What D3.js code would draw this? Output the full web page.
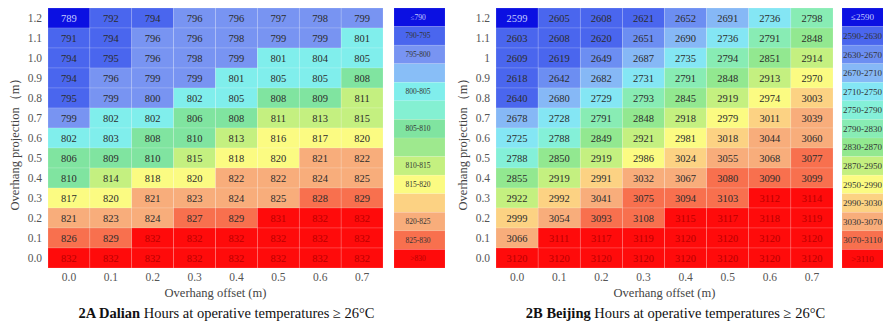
<!DOCTYPE html>
<html>
<head>
<meta charset="utf-8">
<script src="https://cdn.jsdelivr.net/npm/d3@7"></script>
<style>
  html, body { margin: 0; padding: 0; background: #fff; }
  svg { display: block; font-family: "Liberation Serif", "Times New Roman", serif; }
</style>
</head>
<body>
<svg id="chart" width="883" height="324"></svg>
<script>
// Overhang offset (columns) and projection (rows, top to bottom)
const offsets = ["0.0", "0.1", "0.2", "0.3", "0.4", "0.5", "0.6", "0.7"];
const dalianProjections = ["1.2", "1.1", "1.0", "0.9", "0.8", "0.7", "0.6", "0.5", "0.4", "0.3", "0.2", "0.1", "0.0"];
const beijingProjections = ["1.2", "1.1", "1", "0.9", "0.8", "0.7", "0.6", "0.5", "0.4", "0.3", "0.2", "0.1", "0.0"];

// Hours at operative temperatures >= 26°C, one row per projection
const dalianHours = [
  [789, 792, 794, 796, 796, 797, 798, 799],
  [791, 794, 796, 796, 798, 799, 799, 801],
  [794, 795, 796, 798, 799, 801, 804, 805],
  [794, 796, 799, 799, 801, 805, 805, 808],
  [795, 799, 800, 802, 805, 808, 809, 811],
  [799, 802, 802, 806, 808, 811, 813, 815],
  [802, 803, 808, 810, 813, 816, 817, 820],
  [806, 809, 810, 815, 818, 820, 821, 822],
  [810, 814, 818, 820, 822, 822, 824, 825],
  [817, 820, 821, 823, 824, 825, 828, 829],
  [821, 823, 824, 827, 829, 831, 832, 832],
  [826, 829, 832, 832, 832, 832, 832, 832],
  [832, 832, 832, 832, 832, 832, 832, 832]
];
const beijingHours = [
  [2599, 2605, 2608, 2621, 2652, 2691, 2736, 2798],
  [2603, 2608, 2620, 2651, 2690, 2736, 2791, 2848],
  [2609, 2619, 2649, 2687, 2735, 2794, 2851, 2914],
  [2618, 2642, 2682, 2731, 2791, 2848, 2913, 2970],
  [2640, 2680, 2729, 2793, 2845, 2919, 2974, 3003],
  [2678, 2728, 2791, 2848, 2918, 2979, 3011, 3039],
  [2725, 2788, 2849, 2921, 2981, 3018, 3044, 3060],
  [2788, 2850, 2919, 2986, 3024, 3055, 3068, 3077],
  [2855, 2919, 2991, 3032, 3067, 3080, 3090, 3099],
  [2922, 2992, 3041, 3075, 3094, 3103, 3112, 3114],
  [2999, 3054, 3093, 3108, 3115, 3117, 3118, 3119],
  [3066, 3111, 3117, 3119, 3120, 3120, 3120, 3120],
  [3120, 3120, 3120, 3120, 3120, 3120, 3120, 3120]
];

// Legend bands (top to bottom); blank labels are transition bands
const dalianLegendLabels = ["≤790", "790-795", "795-800", "", "800-805", "", "805-810", "", "810-815", "815-820", "", "820-825", "825-830", ">830"];
const dalianLegendColors = ["#0b10e2", "#4a66ee", "#7894f2", "#88bef7", "#80eeec", "#84f0d2", "#80e4a0", "#9ee98e", "#c4f080", "#fbfb82", "#fcd283", "#f8ad7b", "#f8704e", "#ff0b0b"];
// upper bound of each coloured class (value <= bound) and its legend band
const dalianBreaks = [790, 795, 800, 805, 810, 815, 820, 825, 830];
const dalianClassBand = [0, 1, 2, 4, 6, 8, 9, 11, 12, 13];

const beijingLegendLabels = ["≤2590", "2590-2630", "2630-2670", "2670-2710", "2710-2750", "2750-2790", "2790-2830", "2830-2870", "2870-2950", "2950-2990", "2990-3030", "3030-3070", "3070-3110", ">3110"];
const beijingLegendColors = ["#0b10e2", "#4a66ee", "#6c8ef2", "#86b8f6", "#84e6f4", "#84f0d8", "#88ecb4", "#92e890", "#c4f080", "#fbfb82", "#fcd283", "#f8ad7b", "#f8704e", "#ff0b0b"];
const beijingBreaks = [2600, 2640, 2670, 2710, 2750, 2790, 2830, 2870, 2950, 2990, 3030, 3070, 3110];
const beijingClassBand = [0, 1, 2, 3, 4, 5, 6, 7, 8, 9, 10, 11, 12, 13];

const panels = [
  {
    code: "2A", city: "Dalian", hours: dalianHours, rows: dalianProjections,
    breaks: dalianBreaks, classBand: dalianClassBand,
    legendLabels: dalianLegendLabels, legendColors: dalianLegendColors,
    x0: 48, x1: 383, legendX: 394, legendW: 51, legendTextX: 418, legendFont: 7.5
  },
  {
    code: "2B", city: "Beijing", hours: beijingHours, rows: beijingProjections,
    breaks: beijingBreaks, classBand: beijingClassBand,
    legendLabels: beijingLegendLabels, legendColors: beijingLegendColors,
    x0: 496, x1: 833, legendX: 842, legendW: 60, legendTextX: 862.5, legendFont: 9
  }
];

const gridTop = 8, gridBottom = 268;
const svg = d3.select("#chart");

panels.forEach(p => {
  const g = svg.append("g");

  const x = d3.scaleBand().domain(offsets).range([p.x0, p.x1]);
  const y = d3.scaleBand().domain(p.rows).range([gridTop, gridBottom]);

  // class index -> legend band index -> colour
  const cls = d3.scaleThreshold()
    .domain(p.breaks.map(b => b + 0.5))
    .range(d3.range(p.breaks.length + 1));
  const fillOf = v => p.legendColors[p.classBand[cls(v)]];
  const textOf = v => {
    const band = p.classBand[cls(v)];
    if (band === 0) return "#c4ccff";
    if (band === 13) return "#b80000";
    return "#2b2b2b";
  };

  const cells = [];
  p.hours.forEach((row, i) => row.forEach((v, j) => cells.push({ r: p.rows[i], c: offsets[j], v })));

  g.selectAll("rect.cell").data(cells).join("rect")
    .attr("class", "cell")
    .attr("x", d => x(d.c))
    .attr("y", d => y(d.r))
    .attr("width", x.bandwidth())
    .attr("height", y.bandwidth())
    .attr("fill", d => fillOf(d.v))
    .attr("stroke", "#ffffff")
    .attr("stroke-opacity", 0.25)
    .attr("stroke-width", 0.6);

  g.selectAll("text.val").data(cells).join("text")
    .attr("class", "val")
    .attr("x", d => x(d.c) + x.bandwidth() / 2)
    .attr("y", d => y(d.r) + y.bandwidth() / 2)
    .attr("dy", "0.35em")
    .attr("text-anchor", "middle")
    .attr("font-size", 10.5)
    .attr("fill", d => textOf(d.v))
    .text(d => d.v);

  // axes without ticks or domain lines
  const xAxis = g.append("g")
    .attr("transform", `translate(0,${gridBottom + 3})`)
    .call(d3.axisBottom(x).tickSize(0).tickPadding(2));
  const yAxis = g.append("g")
    .attr("transform", `translate(${p.x0},0)`)
    .call(d3.axisLeft(y).tickSize(0).tickPadding(6));
  [xAxis, yAxis].forEach(a => {
    a.select(".domain").remove();
    a.selectAll("text")
      .attr("font-family", "Liberation Serif, Times New Roman, serif")
      .attr("font-size", 11.5)
      .attr("fill", "#555");
  });

  const cx = (p.x0 + p.x1) / 2;

  g.append("text")
    .attr("x", cx).attr("y", 293).attr("dy", "0.35em")
    .attr("text-anchor", "middle")
    .attr("font-size", 12.5).attr("fill", "#444")
    .text("Overhang offset (m)");

  g.append("text")
    .attr("transform", `translate(${p.x0 - 33},${(gridTop + gridBottom) / 2 + 3}) rotate(-90)`)
    .attr("text-anchor", "middle")
    .attr("dy", "0.35em")
    .attr("font-size", 12.5).attr("fill", "#444")
    .text("Overhang projection（m）");

  const title = g.append("text")
    .attr("x", cx + 11).attr("y", 313).attr("dy", "0.35em")
    .attr("text-anchor", "middle")
    .attr("font-size", 14.5).attr("fill", "#111");
  title.append("tspan").attr("font-weight", "bold").text(`${p.code} ${p.city}`);
  title.append("tspan").text(" Hours at operative temperatures ≥ 26°C");

  // legend column
  const ly = d3.scaleBand().domain(d3.range(p.legendLabels.length)).range([gridTop, gridBottom]);
  const lg = g.append("g");
  lg.selectAll("rect").data(p.legendColors).join("rect")
    .attr("x", p.legendX)
    .attr("y", (d, i) => ly(i))
    .attr("width", p.legendW)
    .attr("height", ly.bandwidth())
    .attr("fill", d => d)
    .attr("stroke", "#ffffff")
    .attr("stroke-opacity", 0.2)
    .attr("stroke-width", 0.5);
  lg.selectAll("text").data(p.legendLabels).join("text")
    .attr("x", p.legendTextX)
    .attr("y", (d, i) => ly(i) + ly.bandwidth() / 2)
    .attr("dy", "0.35em")
    .attr("text-anchor", "middle")
    .attr("font-size", p.legendFont)
    .attr("fill", (d, i) => i === 0 ? "#c4ccff" : (i === p.legendLabels.length - 1 ? "#b80000" : "#333"))
    .text(d => d);
});
</script>
</body>
</html>
